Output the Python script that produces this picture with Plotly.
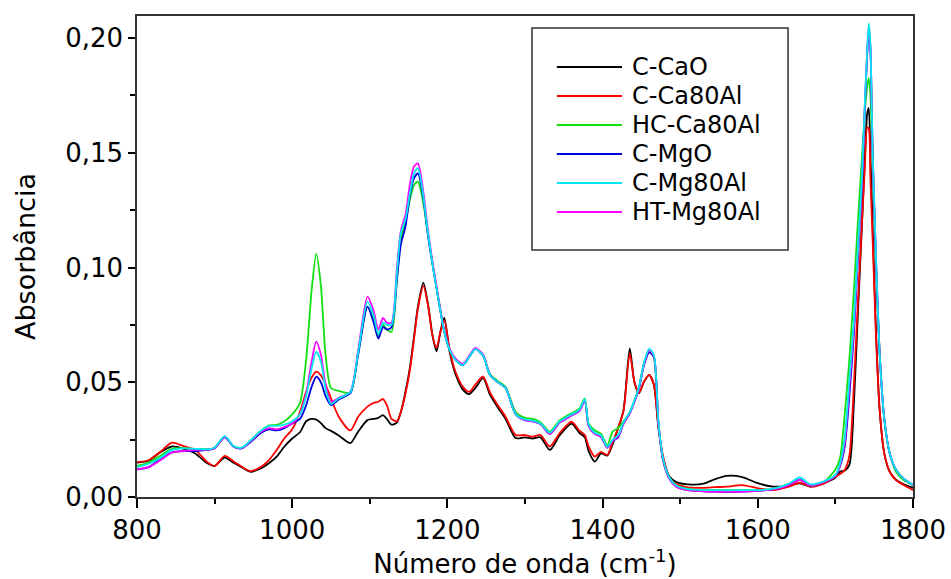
import plotly.graph_objects as go

wavenumber = [
    800, 815, 830, 845, 860, 875, 890, 900, 913, 925, 935, 946, 960, 970, 980, 990, 1000, 1010,
    1018, 1025, 1031, 1037, 1043, 1050, 1060, 1075, 1085, 1097,
    1105, 1111, 1117, 1122, 1128, 1135, 1140, 1146, 1152, 1157,
    1162, 1169, 1175, 1181, 1186, 1191, 1196, 1203, 1210, 1220,
    1228, 1236, 1246, 1255, 1265, 1275, 1288, 1300, 1310, 1320,
    1332, 1345, 1360, 1370, 1377, 1382, 1390, 1398, 1406, 1413,
    1420, 1427, 1435, 1441, 1447, 1453, 1460, 1466, 1472, 1478,
    1486, 1495, 1510, 1530, 1545, 1560, 1580, 1600, 1620, 1640,
    1654, 1668, 1685, 1700, 1706, 1712, 1718, 1724, 1729, 1734,
    1738, 1741, 1743, 1745, 1748, 1752, 1757, 1763, 1770, 1778,
    1788, 1800,
]

c_cao = [
    0.0150, 0.0158, 0.0195, 0.0220, 0.0210, 0.0190, 0.0148, 0.0135, 0.0172, 0.0148, 0.0130, 0.0110, 0.0125, 0.0147, 0.0176, 0.0220, 0.0255, 0.0282,
    0.0330, 0.0340, 0.0337, 0.0322, 0.0300, 0.0288, 0.0268, 0.0235, 0.0285, 0.0335,
    0.0340, 0.0345, 0.0357, 0.0340, 0.0315, 0.0325, 0.0370, 0.0460, 0.0570, 0.0700,
    0.0830, 0.0934, 0.0840, 0.0700, 0.0635, 0.0720, 0.0780, 0.0630, 0.0540, 0.0468,
    0.0448, 0.0475, 0.0518, 0.0445, 0.0390, 0.0340, 0.0257, 0.0260, 0.0255, 0.0260,
    0.0205, 0.0270, 0.0320, 0.0280, 0.0260, 0.0200, 0.0154, 0.0190, 0.0180, 0.0230,
    0.0300, 0.0380, 0.0648, 0.0500, 0.0453, 0.0500, 0.0532, 0.0490, 0.0300, 0.0170,
    0.0090, 0.0065, 0.0055, 0.0058, 0.0078, 0.0092, 0.0087, 0.0060, 0.0045, 0.0050,
    0.0060, 0.0045, 0.0060, 0.0085, 0.0110, 0.0115, 0.0140, 0.0420, 0.0800, 0.1170,
    0.1480, 0.1670, 0.1695, 0.1500, 0.1180, 0.0750, 0.0380, 0.0190, 0.0110, 0.0075,
    0.0055, 0.0040,
]

c_ca80al = [
    0.0152, 0.0160, 0.0197, 0.0237, 0.0222, 0.0205, 0.0154, 0.0135, 0.0179, 0.0154, 0.0132, 0.0113, 0.0132, 0.0161, 0.0205, 0.0256, 0.0295, 0.0370,
    0.0460, 0.0520, 0.0546, 0.0530, 0.0490, 0.0430, 0.0350, 0.0290, 0.0350, 0.0394,
    0.0410, 0.0415, 0.0427, 0.0400, 0.0340, 0.0330, 0.0370, 0.0450, 0.0560, 0.0690,
    0.0820, 0.0920, 0.0835, 0.0700, 0.0650, 0.0720, 0.0770, 0.0640, 0.0550, 0.0480,
    0.0458, 0.0490, 0.0525, 0.0455, 0.0400, 0.0350, 0.0270, 0.0270, 0.0263, 0.0270,
    0.0220, 0.0280, 0.0328, 0.0290, 0.0270, 0.0220, 0.0176, 0.0197, 0.0183, 0.0240,
    0.0300, 0.0375, 0.0627, 0.0500, 0.0453, 0.0500, 0.0532, 0.0490, 0.0305, 0.0176,
    0.0085, 0.0055, 0.0042, 0.0040, 0.0043, 0.0045, 0.0052, 0.0038, 0.0030, 0.0045,
    0.0062, 0.0045, 0.0058, 0.0088, 0.0100, 0.0118, 0.0180, 0.0500, 0.0850, 0.1180,
    0.1440, 0.1610, 0.1605, 0.1400, 0.1120, 0.0730, 0.0380, 0.0190, 0.0110, 0.0074,
    0.0052, 0.0030,
]

hc_ca80al = [
    0.0135, 0.0150, 0.0180, 0.0210, 0.0213, 0.0210, 0.0208, 0.0215, 0.0263, 0.0220, 0.0215, 0.0245, 0.0290, 0.0312, 0.0314, 0.0330, 0.0360, 0.0410,
    0.0600, 0.0900, 0.1060, 0.0920, 0.0620, 0.0475, 0.0462, 0.0455, 0.0630, 0.0830,
    0.0770, 0.0700, 0.0750, 0.0730, 0.0720, 0.0950, 0.1120, 0.1200, 0.1300, 0.1360,
    0.1374, 0.1280, 0.1140, 0.1010, 0.0910, 0.0810, 0.0720, 0.0640, 0.0600, 0.0575,
    0.0610, 0.0645, 0.0620, 0.0535, 0.0505, 0.0480, 0.0370, 0.0345, 0.0340, 0.0325,
    0.0285, 0.0335, 0.0365, 0.0385, 0.0430, 0.0320, 0.0290, 0.0275, 0.0225, 0.0285,
    0.0300, 0.0330, 0.0370, 0.0420, 0.0480, 0.0580, 0.0640, 0.0610, 0.0320, 0.0160,
    0.0085, 0.0050, 0.0035, 0.0030, 0.0030, 0.0030, 0.0030, 0.0030, 0.0035, 0.0055,
    0.0075, 0.0050, 0.0065, 0.0120, 0.0170, 0.0360, 0.0600, 0.0910, 0.1200, 0.1470,
    0.1680, 0.1790, 0.1825, 0.1760, 0.1470, 0.1030, 0.0630, 0.0340, 0.0190, 0.0110,
    0.0074, 0.0052,
]

c_mgo = [
    0.0120, 0.0130, 0.0165, 0.0195, 0.0200, 0.0200, 0.0205, 0.0212, 0.0260, 0.0218, 0.0212, 0.0238, 0.0280, 0.0295, 0.0290, 0.0300, 0.0320, 0.0340,
    0.0400, 0.0480, 0.0524, 0.0500, 0.0440, 0.0400, 0.0425, 0.0453, 0.0620, 0.0830,
    0.0760, 0.0690, 0.0740, 0.0730, 0.0740, 0.0950, 0.1100, 0.1180, 0.1320, 0.1390,
    0.1410, 0.1300, 0.1140, 0.1010, 0.0910, 0.0810, 0.0720, 0.0640, 0.0600, 0.0575,
    0.0610, 0.0645, 0.0615, 0.0530, 0.0500, 0.0475, 0.0360, 0.0335, 0.0330, 0.0318,
    0.0275, 0.0325, 0.0355, 0.0375, 0.0420, 0.0310, 0.0275, 0.0262, 0.0215, 0.0245,
    0.0260, 0.0320, 0.0365, 0.0415, 0.0475, 0.0570, 0.0630, 0.0610, 0.0320, 0.0160,
    0.0080, 0.0045, 0.0030, 0.0025, 0.0023, 0.0022, 0.0023, 0.0027, 0.0033, 0.0052,
    0.0075, 0.0050, 0.0065, 0.0092, 0.0135, 0.0220, 0.0440, 0.0720, 0.1040, 0.1350,
    0.1700, 0.1930, 0.2030, 0.1960, 0.1500, 0.1060, 0.0630, 0.0340, 0.0190, 0.0120,
    0.0080, 0.0052,
]

c_mg80al = [
    0.0130, 0.0145, 0.0170, 0.0205, 0.0212, 0.0210, 0.0208, 0.0215, 0.0265, 0.0220, 0.0215, 0.0245, 0.0290, 0.0310, 0.0310, 0.0315, 0.0330, 0.0360,
    0.0440, 0.0560, 0.0633, 0.0590, 0.0470, 0.0405, 0.0430, 0.0458, 0.0630, 0.0851,
    0.0790, 0.0710, 0.0760, 0.0750, 0.0750, 0.0980, 0.1150, 0.1210, 0.1330, 0.1410,
    0.1433, 0.1310, 0.1150, 0.1010, 0.0910, 0.0810, 0.0720, 0.0640, 0.0600, 0.0575,
    0.0610, 0.0645, 0.0615, 0.0530, 0.0500, 0.0475, 0.0360, 0.0338, 0.0333, 0.0320,
    0.0280, 0.0330, 0.0360, 0.0380, 0.0426, 0.0315, 0.0280, 0.0268, 0.0219, 0.0250,
    0.0270, 0.0325, 0.0370, 0.0420, 0.0480, 0.0580, 0.0645, 0.0620, 0.0325, 0.0165,
    0.0085, 0.0050, 0.0034, 0.0030, 0.0030, 0.0029, 0.0030, 0.0030, 0.0036, 0.0058,
    0.0085, 0.0055, 0.0068, 0.0096, 0.0147, 0.0260, 0.0510, 0.0780, 0.1080, 0.1380,
    0.1720, 0.1950, 0.2064, 0.1980, 0.1510, 0.1080, 0.0630, 0.0340, 0.0190, 0.0120,
    0.0080, 0.0052,
]

ht_mg80al = [
    0.0120, 0.0130, 0.0160, 0.0193, 0.0200, 0.0205, 0.0206, 0.0213, 0.0262, 0.0219, 0.0213, 0.0242, 0.0285, 0.0300, 0.0295, 0.0305, 0.0320, 0.0360,
    0.0450, 0.0590, 0.0677, 0.0620, 0.0490, 0.0415, 0.0432, 0.0460, 0.0640, 0.0873,
    0.0810, 0.0730, 0.0780, 0.0760, 0.0760, 0.1000, 0.1160, 0.1230, 0.1370, 0.1440,
    0.1454, 0.1330, 0.1160, 0.1020, 0.0920, 0.0815, 0.0725, 0.0645, 0.0605, 0.0580,
    0.0615, 0.0650, 0.0620, 0.0530, 0.0500, 0.0475, 0.0360, 0.0335, 0.0330, 0.0318,
    0.0275, 0.0325, 0.0355, 0.0375, 0.0420, 0.0310, 0.0275, 0.0262, 0.0215, 0.0245,
    0.0265, 0.0320, 0.0365, 0.0415, 0.0475, 0.0575, 0.0640, 0.0615, 0.0320, 0.0160,
    0.0080, 0.0045, 0.0030, 0.0025, 0.0023, 0.0022, 0.0023, 0.0027, 0.0033, 0.0052,
    0.0075, 0.0050, 0.0065, 0.0092, 0.0140, 0.0240, 0.0480, 0.0750, 0.1060, 0.1360,
    0.1710, 0.1940, 0.2050, 0.1970, 0.1505, 0.1070, 0.0630, 0.0340, 0.0190, 0.0120,
    0.0080, 0.0052,
]

series_names = ["C-CaO", "C-Ca80Al", "HC-Ca80Al", "C-MgO", "C-Mg80Al", "HT-Mg80Al"]
series_values = [c_cao, c_ca80al, hc_ca80al, c_mgo, c_mg80al, ht_mg80al]
series_colors = ["#000000", "#ff0000", "#11e011", "#0000e0", "#00e8f0", "#ff00ff"]
draw_order = [0, 1, 2, 3, 5, 4]

FONT = "DejaVu Sans"

fig = go.Figure()
for i in draw_order:
    fig.add_trace(go.Scatter(
        x=wavenumber, y=series_values[i], name=series_names[i], mode="lines",
        line=dict(color=series_colors[i], width=1.8, shape="spline", smoothing=0.7),
        showlegend=False,
    ))

# Legend box drawn in paper coordinates (line samples + labels)
LEG_X0, LEG_X1, LEG_Y0, LEG_Y1 = 0.509, 0.839, 0.5135, 0.975
SAMPLE_X0, SAMPLE_X1, TEXT_X = 0.541, 0.625, 0.635
ROW_TOP, ROW_STEP = 0.894, 0.0603

shapes = [dict(type="rect", xref="paper", yref="paper",
               x0=LEG_X0, x1=LEG_X1, y0=LEG_Y0, y1=LEG_Y1,
               line=dict(color="#333333", width=1.5), fillcolor="white", layer="above")]
annotations = []
for i, (name, color) in enumerate(zip(series_names, series_colors)):
    yy = ROW_TOP - i * ROW_STEP
    shapes.append(dict(type="line", xref="paper", yref="paper",
                       x0=SAMPLE_X0, x1=SAMPLE_X1, y0=yy, y1=yy,
                       line=dict(color=color, width=2), layer="above"))
    annotations.append(dict(xref="paper", yref="paper", x=TEXT_X, y=yy,
                            text=name, showarrow=False, xanchor="left", yanchor="middle",
                            font=dict(size=24, family=FONT, color="black")))

fig.update_layout(
    width=951, height=579,
    margin=dict(l=137, r=38, t=16, b=82, autoexpand=False),
    paper_bgcolor="white", plot_bgcolor="white",
    separators=", ",
    font=dict(family=FONT, color="black"),
    showlegend=False,
    shapes=shapes,
    annotations=annotations,
)

fig.update_xaxes(
    range=[800, 1800], tickvals=[800, 1000, 1200, 1400, 1600, 1800],
    ticks="outside", ticklen=9, tickwidth=1.5, tickcolor="black",
    minor=dict(dtick=100, ticks="outside", ticklen=5, tickwidth=1.5, tickcolor="black"),
    showline=True, linecolor="#333333", linewidth=1.5, mirror=True,
    showgrid=False, zeroline=False, automargin=False,
    tickfont=dict(size=26, family=FONT),
    title=dict(text="Número de onda (cm<sup>-1</sup>)", font=dict(size=26, family=FONT), standoff=10),
)
fig.update_yaxes(
    range=[0, 0.2096], tickvals=[0, 0.05, 0.10, 0.15, 0.20], tickformat=".2f",
    ticks="outside", ticklen=7, tickwidth=1.5, tickcolor="black",
    minor=dict(dtick=0.025, ticks="outside", ticklen=5, tickwidth=1.5, tickcolor="black"),
    showline=True, linecolor="#333333", linewidth=1.5, mirror=True,
    showgrid=False, zeroline=False, automargin=False,
    tickfont=dict(size=26, family=FONT),
    title=dict(text="Absorbância", font=dict(size=27, family=FONT), standoff=22),
)

fig.write_html("out.html")
